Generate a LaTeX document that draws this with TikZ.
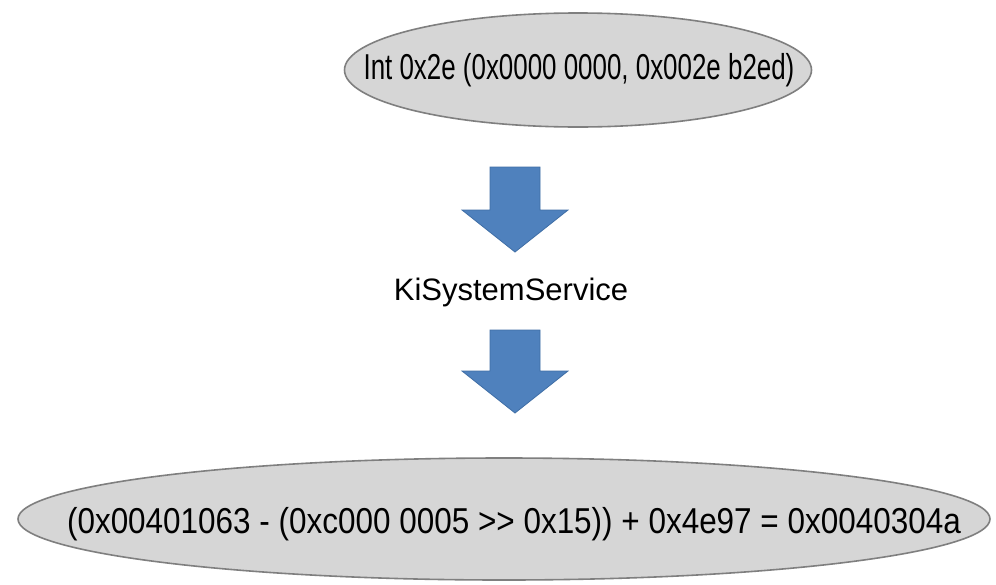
\documentclass[tikz,border=0pt]{standalone}
\usepackage{fontspec}
\setmainfont{Liberation Sans}
\usetikzlibrary{shapes.geometric}
\definecolor{ovalfill}{HTML}{D6D6D6}
\definecolor{ovalline}{HTML}{7F7F7F}
\definecolor{arrowblue}{HTML}{4F81BD}
\definecolor{arrowline}{HTML}{3F6EA6}
\begin{document}
\begin{tikzpicture}[x=1pt,y=-1pt,
  oval/.style={ellipse, draw=ovalline, line width=1.6pt, fill=ovalfill, inner sep=0pt},
  ovaltext/.style={inner sep=0pt, font=\fontsize{36}{36}\selectfont},
  plain/.style={inner sep=0pt, font=\fontsize{31}{31}\selectfont},
  blockarrow/.style={fill=arrowblue, draw=arrowline, line width=0.8pt, line join=miter}]
\fill[white] (0,0) rectangle (996,584);
\useasboundingbox (0,0) rectangle (996,584);

% the interrupt call
\node[oval, minimum width=467pt, minimum height=114pt] (intcall) at (578,70) {};
\node[ovaltext] (inttext) at (579,70)
  {\scalebox{0.72}[1]{Int 0x2e (0x0000 0000, 0x002e b2ed)}};

% dispatcher
\node[plain] (kiss) at (511,292) {KiSystemService};

% computed target address
\node[oval, minimum width=972pt, minimum height=122pt] (target) at (504,519) {};
\node[ovaltext] (targettext) at (514,524)
  {\scalebox{0.874}[1]{(0x00401063 - (0xc000 0005 >{}> 0x15)) + 0x4e97 = 0x0040304a}};

% block arrows between the stages
\coordinate (a1) at (515,167);
\coordinate (a2) at (515,330);
\foreach \c/\h in {a1/85, a2/83}{
  \draw[blockarrow] ([xshift=-25pt]\c) -- ([xshift=25pt]\c)
    -- ([xshift=25pt,yshift=-(\h-42)*1pt]\c) -- ([xshift=53pt,yshift=-(\h-42)*1pt]\c)
    -- ([yshift=-\h*1pt]\c) -- ([xshift=-53pt,yshift=-(\h-42)*1pt]\c)
    -- ([xshift=-25pt,yshift=-(\h-42)*1pt]\c) -- cycle;
}
\end{tikzpicture}
\end{document}
